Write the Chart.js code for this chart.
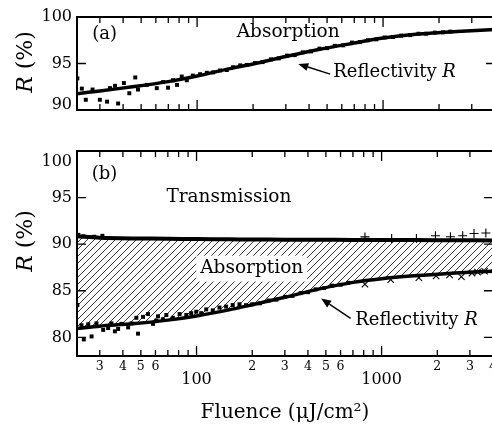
<!DOCTYPE html>
<html><head><meta charset="utf-8">
<script src="https://cdn.jsdelivr.net/npm/chart.js@4/dist/chart.umd.min.js"></script>
<style>
html,body{margin:0;padding:0;background:#fff;overflow:hidden;width:492px;height:428px;}
#wrap{position:relative;width:500px;height:428px;overflow:hidden;}
#ca{position:absolute;left:0;top:0;}
#cb{position:absolute;left:0;top:124px;}
</style></head><body>
<div id="wrap">
<canvas id="ca" width="500" height="125" style="width:500px;height:125px"></canvas>
<canvas id="cb" width="500" height="304" style="width:500px;height:304px"></canvas>
</div>
<script>
// ---------- data ----------
const fitFluence = [22.6, 30, 45, 70, 100, 150, 200, 300, 450, 700, 1000, 1500, 2500, 4000];
const fitReflA = [91.75, 92.05, 92.5, 93.05, 93.65, 94.45, 94.95, 95.75, 96.5, 97.2, 97.75, 98.15, 98.45, 98.65];
const fitReflB = [80.95, 81.2, 81.45, 81.85, 82.3, 82.95, 83.5, 84.3, 85.15, 85.9, 86.3, 86.6, 86.9, 87.1];
const fitTransReflB = [90.85, 90.7, 90.62, 90.58, 90.55, 90.52, 90.5, 90.48, 90.47, 90.46, 90.45, 90.44, 90.42, 90.4];

const measFluenceA = [22.7, 24.0, 25.2, 27.4, 30.0, 32.8, 34.0, 36.2, 37.6, 40.4, 43.2, 46.5, 48.1, 53.6, 60.7, 65.6, 69.8, 74.2, 78.0, 82.7, 88.0, 94.8, 103.8, 112.8, 122, 133, 144.5, 156, 170.6,
  185, 205, 225, 250, 275, 305, 335, 370, 410, 455, 500, 550, 610, 680, 750, 830, 920, 1020, 1130, 1250, 1400, 1550, 1700, 1900, 2100, 2300];
const measReflA = [93.4, 92.3, 91.1, 92.2, 91.1, 90.9, 92.35, 92.6, 90.7, 92.9, 91.8, 93.5, 92.2, 92.7, 92.35, 93.0, 92.4, 93.2, 92.7, 93.6, 93.2, 93.7, 93.85, 94.0, 94.05, 94.25, 94.3, 94.6, 94.8,
  94.85, 95.05, 95.15, 95.45, 95.55, 95.85, 95.9, 96.2, 96.3, 96.6, 96.65, 96.9, 96.95, 97.25, 97.3, 97.5, 97.6, 97.8, 97.85, 98.0, 98.05, 98.2, 98.2, 98.32, 98.35, 98.43];

const measFluenceB = [22.7, 24.6, 27.1, 23.9, 26.0, 28.8, 31.3, 33.3, 34.7, 36.2, 37.7, 39.3, 42.7, 44.5, 47.3, 48.3, 51.4, 54.7, 58.2, 60.7, 61.9, 65.8, 68.7, 74.5, 81.0, 88.0, 93.6, 99.6, 106, 112.8, 122.4, 133, 144.5, 156.9, 170.6,
  185, 200, 220, 245, 270, 300, 330, 365, 400, 440, 490, 540, 600, 660];
const measReflB = [83.47, 79.78, 80.1, 81.3, 81.4, 81.5, 80.8, 81.0, 81.5, 80.65, 80.9, 81.45, 81.07, 81.5, 82.1, 80.4, 82.2, 82.5, 81.45, 81.8, 82.26, 81.95, 82.4, 82.1, 82.5, 82.4, 82.6, 82.75, 82.6, 83.0, 82.9, 83.2, 83.3, 83.47, 83.55,
  83.45, 83.55, 83.65, 83.95, 84.05, 84.35, 84.45, 84.75, 84.85, 85.15, 85.3, 85.55, 85.65, 85.85];
const measFluenceTRB = [23.0, 24.5, 28.0, 31.0];
const measTransReflB = [91.0, 90.85, 90.8, 90.9];

const plusFluence = [813, 1133, 1542, 1954, 2355, 2743, 3157, 3659];
const plusValues = [90.78, 90.6, 90.6, 90.9, 90.8, 90.9, 91.15, 91.2];
const crossFluence = [813, 1120, 1590, 1970, 2330, 2700, 3080, 3300, 3600];
const crossValues = [85.7, 86.2, 86.4, 86.6, 86.7, 86.5, 86.9, 87.0, 87.1];

const xTickValues = [30, 40, 50, 60, 70, 80, 90, 100, 200, 300, 400, 500, 600, 700, 800, 900, 1000, 2000, 3000, 4000];
const xMajorTicks = [100, 1000];
const xLabeledTicks = [30, 40, 50, 60, 100, 200, 300, 400, 500, 600, 1000, 2000, 3000, 4000];
const yTicksA = [90, 95, 100];
const yTicksB = [80, 85, 90, 95, 100];

// ---------- helpers ----------
const FAM = "'DejaVu Serif', serif";
const pts = (xs, ys) => xs.map((x, i) => ({x: x, y: ys[i]}));

function framePlugin(yTicks) {
  return {
    id: 'frame',
    afterDatasetsDraw(chart) {
      const {ctx, chartArea: a, scales: {x, y}} = chart;
      ctx.save();
      ctx.strokeStyle = '#000';
      ctx.lineWidth = 2;
      ctx.strokeRect(a.left, a.top, a.right - a.left, a.bottom - a.top);
      ctx.lineWidth = 1.3;
      ctx.beginPath();
      xTickValues.forEach(v => {
        const px = x.getPixelForValue(v);
        const len = xMajorTicks.includes(v) ? 10 : 6;
        ctx.moveTo(px, a.bottom); ctx.lineTo(px, a.bottom - len);
        ctx.moveTo(px, a.top); ctx.lineTo(px, a.top + len);
      });
      yTicks.forEach(v => {
        const py = y.getPixelForValue(v);
        ctx.moveTo(a.left, py); ctx.lineTo(a.left + 9, py);
        ctx.moveTo(a.right, py); ctx.lineTo(a.right - 9, py);
      });
      ctx.stroke();
      ctx.restore();
    }
  };
}

function drawYTitle(ctx, cx, cy) {
  ctx.save();
  ctx.translate(cx, cy);
  ctx.rotate(-Math.PI / 2);
  ctx.fillStyle = '#000';
  ctx.textBaseline = 'middle';
  ctx.textAlign = 'left';
  ctx.font = 'italic 22px ' + FAM;
  const w1 = ctx.measureText('R').width;
  ctx.font = '22px ' + FAM;
  const w2 = ctx.measureText(' (%)').width;
  const x0 = -(w1 + w2) / 2;
  ctx.font = 'italic 22px ' + FAM;
  ctx.fillText('R', x0, 0);
  ctx.font = '22px ' + FAM;
  ctx.fillText(' (%)', x0 + w1, 0);
  ctx.restore();
}

function drawArrow(ctx, x1, y1, x2, y2) {
  const ang = Math.atan2(y2 - y1, x2 - x1);
  const L = 10, W = 4;
  const bx = x2 - L * Math.cos(ang), by = y2 - L * Math.sin(ang);
  ctx.save();
  ctx.strokeStyle = '#000'; ctx.fillStyle = '#000'; ctx.lineWidth = 1.4;
  ctx.beginPath(); ctx.moveTo(x1, y1); ctx.lineTo(bx, by); ctx.stroke();
  ctx.beginPath();
  ctx.moveTo(x2, y2);
  ctx.lineTo(bx + W * Math.sin(ang), by - W * Math.cos(ang));
  ctx.lineTo(bx - W * Math.sin(ang), by + W * Math.cos(ang));
  ctx.closePath(); ctx.fill();
  ctx.restore();
}

// annotations in data units: {text, f, r, align, italicTail, white}
function annotationPlugin(notes, arrows, titleY) {
  return {
    id: 'notes',
    afterDraw(chart) {
      const {ctx, scales: {x, y}} = chart;
      ctx.save();
      ctx.textBaseline = 'middle';
      notes.forEach(n => {
        const px = x.getPixelForValue(n.f), py = y.getPixelForValue(n.r);
        ctx.font = n.size + 'px ' + FAM;
        const w1 = ctx.measureText(n.text).width;
        let w2 = 0;
        if (n.tail) { ctx.font = 'italic ' + n.size + 'px ' + FAM; w2 = ctx.measureText(n.tail).width; }
        const w = w1 + w2;
        const left = n.align === 'left' ? px : px - w / 2;
        if (n.white) {
          ctx.fillStyle = '#fff';
          ctx.fillRect(left - 4, py - n.size * 0.7, w + 8, n.size * 1.4);
        }
        ctx.fillStyle = '#000';
        ctx.textAlign = 'left';
        ctx.font = n.size + 'px ' + FAM;
        ctx.fillText(n.text, left, py);
        if (n.tail) { ctx.font = 'italic ' + n.size + 'px ' + FAM; ctx.fillText(n.tail, left + w1, py); }
      });
      arrows.forEach(a => {
        drawArrow(ctx, x.getPixelForValue(a.f1), y.getPixelForValue(a.r1), x.getPixelForValue(a.f2), y.getPixelForValue(a.r2));
      });
      ctx.restore();
      drawYTitle(ctx, 26, titleY);
    }
  };
}

function xScale(show) {
  return {
    type: 'logarithmic', min: 22.6, max: 4000, display: show,
    afterBuildTicks: s => { s.ticks = xTickValues.map(v => ({value: v, major: xMajorTicks.includes(v)})); },
    afterFit: s => { if (show) s.height = 72; },
    grid: {display: false, drawTicks: false},
    border: {display: false},
    ticks: {
      autoSkip: false, maxRotation: 0, minRotation: 0, padding: 3, color: '#000',
      font: c => (c.tick && xMajorTicks.includes(c.tick.value)) ? {family: FAM, size: 16, lineHeight: 0.88} : {family: FAM, size: 12.5, lineHeight: 1.2},
      callback: v => xMajorTicks.includes(v) ? ['', String(v)] : (xLabeledTicks.includes(v) ? String(v).charAt(0) : '')
    },
    title: {display: show, text: 'Fluence (μJ/cm²)', color: '#000', font: {family: FAM, size: 20, lineHeight: 1.2}, padding: {top: 0, bottom: 3}}
  };
}

function yScale(min, max, ticks, shifted) {
  return {
    min: min, max: max,
    afterBuildTicks: s => { s.ticks = ticks.map(v => ({value: v})); },
    afterFit: s => { s.width = 77; },
    grid: {display: false, drawTicks: false},
    border: {display: false},
    ticks: {
      padding: 5, color: '#000',
      font: c => {
        const v = c.tick ? c.tick.value : 0;
        if (shifted[v] !== undefined) return {family: FAM, size: 16, lineHeight: shifted[v].lh};
        return {family: FAM, size: 16, lineHeight: 1.2};
      },
      callback: v => shifted[v] !== undefined ? shifted[v].lines(String(v)) : String(v)
    }
  };
}

const baseOpts = {responsive: false, animation: false, events: [],
  plugins: {legend: {display: false}, tooltip: {enabled: false}}};

// ---------- chart (a) ----------
new Chart(document.getElementById('ca'), {
  type: 'line',
  data: {datasets: [
    {data: pts(fitFluence, fitReflA), borderColor: '#000', borderWidth: 3.5, pointRadius: 0, tension: 0.3, fill: false},
    {data: pts(measFluenceA, measReflA), showLine: false, pointStyle: 'rect', pointRadius: 2.8, backgroundColor: '#000', borderColor: '#000', borderWidth: 0}
  ]},
  options: Object.assign({}, baseOpts, {
    layout: {padding: {top: 17, bottom: 3, left: 0, right: 5}},
    scales: {x: xScale(false), y: yScale(90, 100, yTicksA, {90: {lh: 0.625, lines: s => [s, '']}})}
  }),
  plugins: [framePlugin(yTicksA), annotationPlugin(
    [{text: '(a)', f: 31.8, r: 98.1, size: 18, align: 'center'},
     {text: 'Absorption', f: 309, r: 98.4, size: 18.5, align: 'center'},
     {text: 'Reflectivity ', tail: 'R', f: 540, r: 94.0, size: 18, align: 'left'}],
    [{f1: 520, r1: 93.86, f2: 350, r2: 94.95}], 62)]
});

// ---------- chart (b) ----------
const cb = document.getElementById('cb');
const pc = document.createElement('canvas');
pc.width = 7; pc.height = 7;
const pg = pc.getContext('2d');
pg.strokeStyle = '#000'; pg.lineWidth = 0.8;
pg.beginPath();
pg.moveTo(-1, 8); pg.lineTo(8, -1);
pg.moveTo(-1, 1); pg.lineTo(1, -1);
pg.moveTo(6, 8); pg.lineTo(8, 6);
pg.stroke();
const hatch = cb.getContext('2d').createPattern(pc, 'repeat');

new Chart(cb, {
  type: 'line',
  data: {datasets: [
    {data: pts(fitFluence, fitTransReflB), borderColor: '#000', borderWidth: 4, pointRadius: 0, tension: 0.3, fill: 1, backgroundColor: hatch},
    {data: pts(fitFluence, fitReflB), borderColor: '#000', borderWidth: 3.5, pointRadius: 0, tension: 0.3, fill: false},
    {data: pts(measFluenceB, measReflB), showLine: false, pointStyle: 'rect', pointRadius: 2.8, backgroundColor: '#000', borderColor: '#000', borderWidth: 0, fill: false},
    {data: pts(measFluenceTRB, measTransReflB), showLine: false, pointStyle: 'rect', pointRadius: 2.8, backgroundColor: '#000', borderColor: '#000', borderWidth: 0, fill: false},
    {data: pts(plusFluence, plusValues), showLine: false, pointStyle: 'cross', pointRadius: 4.5, borderColor: '#000', borderWidth: 1.1, fill: false},
    {data: pts(crossFluence, crossValues), showLine: false, pointStyle: 'crossRot', pointRadius: 4.5, borderColor: '#000', borderWidth: 1.1, fill: false}
  ]},
  options: Object.assign({}, baseOpts, {
    layout: {padding: {top: 5, bottom: 0, left: 0, right: 5}},
    scales: {x: xScale(true), y: yScale(78, 100, yTicksB, {100: {lh: 1.375, lines: s => ['', s]}})}
  }),
  plugins: [framePlugin(yTicksB), annotationPlugin(
    [{text: '(b)', f: 31.8, r: 97.48, size: 18, align: 'center'},
     {text: 'Transmission', f: 149.6, r: 95.05, size: 18.5, align: 'center'},
     {text: 'Absorption', f: 198.7, r: 87.38, size: 18.5, align: 'center', white: true},
     {text: 'Reflectivity ', tail: 'R', f: 720, r: 81.84, size: 18, align: 'left'}],
    [{f1: 680, r1: 82.04, f2: 471, r2: 84.17}], 117)]
});
</script>
</body></html>
